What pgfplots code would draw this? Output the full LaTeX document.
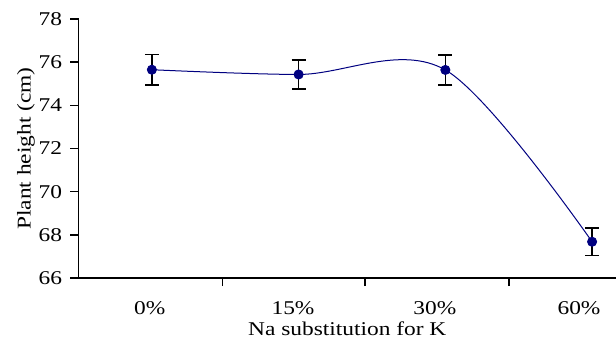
\documentclass[border=0pt]{standalone}
\usepackage{pgfplots}
\pgfplotsset{compat=1.18}
\usepackage{fontspec}
\setmainfont{Liberation Serif}[FakeStretch=1.2]
\definecolor{navyline}{RGB}{0,0,128}
\begin{document}
\begin{tikzpicture}[x=1bp,y=1bp]
\useasboundingbox (0,0) rectangle (616,339);
\begin{axis}[
  scale only axis,
  width=537.5bp, height=259bp,
  at={(78.5bp,61bp)}, anchor=south west,
  xmin=-0.5, xmax=3.163,
  ymin=66, ymax=78,
  axis lines*=left,
  axis line style={line width=1.6bp, black},
  ytick={66,68,...,78},
  xtick={0.482,1.452,2.434},
  xticklabels={},
  tick align=outside,
  major tick length=8bp,
  tick style={line width=1.6bp, black},
  extra x ticks={-0.014,0.962,1.929,2.911},
  extra x tick labels={0\%,15\%,30\%,60\%},
  extra x tick style={major tick length=0pt},
  xticklabel style={yshift=-20bp},
  yticklabel style={xshift=-5bp},
  /pgf/number format/assume math mode=true,
  font=\fontsize{19.5bp}{21bp}\selectfont,
  ylabel={Plant height (cm)},
  ylabel style={yshift=-3bp},
  xlabel={Na substitution for K},
  xlabel style={yshift=8bp},
  clip=false,
]
\addplot[color=navyline, line width=1bp, smooth, tension=0.55,
  mark=*, mark size=4.5bp, mark options={solid, fill=navyline},
  error bars/.cd, y dir=both, y explicit,
  error bar style={black, line width=1.6bp},
  error mark options={rotate=90, mark size=7bp, black, line width=1.6bp}]
coordinates {
(0,75.65) +- (0,0.7)
(1,75.43) +- (0,0.67)
(2,75.64) +- (0,0.7)
(3,67.68) +- (0,0.63)
};
\end{axis}
\end{tikzpicture}
\end{document}
